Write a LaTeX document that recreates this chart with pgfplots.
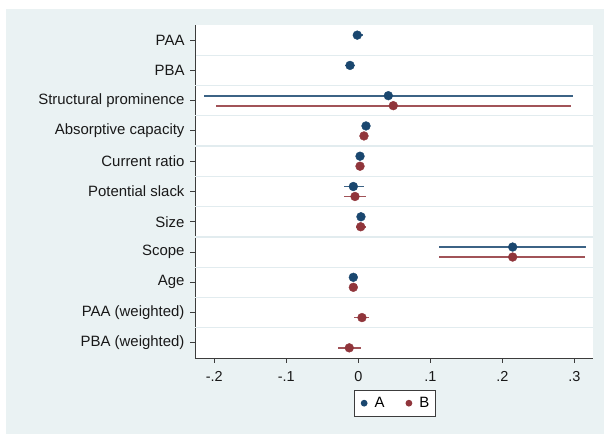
\documentclass[border=0pt]{standalone}
\usepackage{fontspec}
\setmainfont{Liberation Sans}
\usepackage{pgfplots}
\usepackage{pgfplotstable}
\pgfplotsset{compat=1.18}
\definecolor{sbg}{RGB}{234,242,243}
\definecolor{snavy}{RGB}{26,71,111}
\definecolor{smaroon}{RGB}{144,53,59}
\definecolor{sgrid}{RGB}{226,236,239}
\definecolor{saxis}{RGB}{60,60,60}

% cat: 11 = PAA (top) ... 1 = PBA (weighted) (bottom)
\pgfplotstableread{
cat est lo hi
11 -0.0014 -0.0080 0.0060
10 -0.0115 -0.0190 -0.0040
9 0.0417 -0.2143 0.2977
8 0.0107 0.0092 0.0122
7 0.0024 0.0010 0.0038
6 -0.0069 -0.0199 0.0079
5 0.0037 0.0022 0.0052
4 0.2144 0.1125 0.3158
3 -0.0069 -0.0082 -0.0056
}\tabA

\pgfplotstableread{
cat est lo hi
9 0.0486 -0.1976 0.2950
8 0.0079 0.0060 0.0098
7 0.0024 0.0010 0.0038
6 -0.0046 -0.0200 0.0107
5 0.0033 -0.0036 0.0107
4 0.2144 0.1125 0.3144
3 -0.0069 -0.0082 -0.0056
2 0.0051 -0.0056 0.0153
1 -0.0125 -0.0278 0.0033
}\tabB

\begin{document}
\begin{tikzpicture}[x=1bp,y=1bp]
\fill[white] (0,0) rectangle (604,434);
\fill[sbg] (6,0) rectangle (604,425);
\begin{axis}[
  at={(195bp,76bp)}, anchor=south west,
  scale only axis, width=398bp, height=333bp,
  xmin=-0.2268, xmax=0.326, ymin=0.5, ymax=11.5,
  axis on top,
  axis x line*=bottom, axis y line*=left,
  axis line style={saxis, line width=0.9bp, -},
  axis background/.style={fill=white},
  ytick={1,...,11},
  yticklabels={PBA (weighted),PAA (weighted),Age,Scope,Size,Potential slack,Current ratio,Absorptive capacity,Structural prominence,PBA,PAA},
  xtick={-0.2,-0.1,0,0.1,0.2,0.3},
  xticklabels={-.2,-.1,0,.1,.2,.3},
  tick align=outside, major tick length=5bp,
  tick style={saxis, line width=0.9bp},
  yticklabel style={font=\fontsize{15}{18}\selectfont, text=black!90, xshift=-2bp},
  xticklabel style={font=\fontsize{14.5}{17}\selectfont, text=black!90, yshift=-5bp},
  extra y ticks={1.5,2.5,3.5,4.5,5.5,6.5,7.5,8.5,9.5,10.5},
  extra y tick labels={},
  extra y tick style={grid=major, major tick length=0pt, grid style={sgrid, line width=1.2bp, shorten <=0.8bp}},
  legend style={at={(0.5025,-0.096)}, anchor=north, legend columns=2,
    draw=saxis, line width=0.7bp, fill=white, font=\fontsize{15}{18}\selectfont,
    inner xsep=4bp, inner ysep=5bp,
    /tikz/every even column/.append style={column sep=17bp}},
  legend image code/.code={\path[draw=none,fill=none] (-5.4bp,-1bp) rectangle (8.4bp,1bp); \fill[draw=none] (0,0) circle (3.4bp);},
  clip=false,
]
\addplot[color=snavy, only marks, mark=*, mark size=4.4bp,
  error bars/.cd, x dir=both, x explicit, error mark=none,
  error bar style={line width=1.8bp, color=snavy!85!white}]
  table[x=est, y expr=\thisrow{cat}+0.165,
        x error plus expr=\thisrow{hi}-\thisrow{est},
        x error minus expr=\thisrow{est}-\thisrow{lo}] {\tabA};
\addlegendentry{A}
\addplot[color=smaroon, only marks, mark=*, mark size=4.4bp,
  error bars/.cd, x dir=both, x explicit, error mark=none,
  error bar style={line width=1.8bp, color=smaroon!85!white}]
  table[x=est, y expr=\thisrow{cat}-0.165,
        x error plus expr=\thisrow{hi}-\thisrow{est},
        x error minus expr=\thisrow{est}-\thisrow{lo}] {\tabB};
\addlegendentry{B}
\end{axis}
\pgfresetboundingbox
\useasboundingbox (0,0) rectangle (604,434);
\end{tikzpicture}
\end{document}
